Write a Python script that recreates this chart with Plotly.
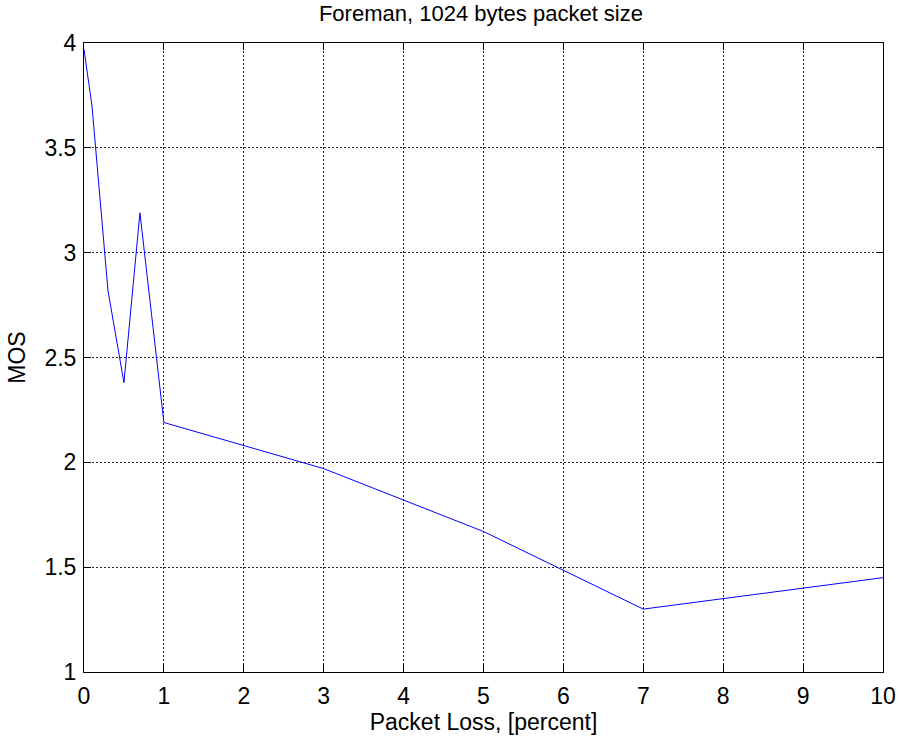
import plotly.graph_objects as go

# Packet loss (percent) versus mean opinion score
packet_loss = [0, 0.1, 0.3, 0.5, 0.7, 1, 3, 5, 7, 10]
mos = [3.97, 3.70, 2.82, 2.38, 3.19, 2.19, 1.97, 1.67, 1.30, 1.45]

x_ticks = list(range(0, 11))
y_ticks = [1, 1.5, 2, 2.5, 3, 3.5, 4]
y_tick_text = ["1", "1.5", "2", "2.5", "3", "3.5", "4"]

font_family = "Liberation Sans, Arial, Helvetica, sans-serif"

fig = go.Figure()
fig.add_trace(go.Scatter(
    x=packet_loss, y=mos, mode="lines",
    line=dict(color="#0000FF", width=1),
    showlegend=False,
))

axis_common = dict(
    showline=True, linecolor="black", linewidth=1, mirror="allticks",
    ticks="inside", ticklen=7, tickcolor="black", tickwidth=1,
    showgrid=True, gridcolor="#222222", gridwidth=1, griddash="2px,2px",
    zeroline=False, automargin=False,
    tickfont=dict(family=font_family, size=23, color="black"),
)

fig.update_xaxes(
    range=[0, 10], tickvals=x_ticks, ticklabelstandoff=3,
    title=dict(text="Packet Loss, [percent]", standoff=4,
               font=dict(family=font_family, size=23, color="black")),
    **axis_common,
)
fig.update_yaxes(
    range=[1, 4], tickvals=y_ticks, ticktext=y_tick_text, ticklabelstandoff=2,
    title=dict(text="MOS", standoff=12,
               font=dict(family=font_family, size=23, color="black")),
    **axis_common,
)

fig.update_layout(
    width=899, height=736,
    margin=dict(l=84, r=16, t=43, b=64, autoexpand=False),
    paper_bgcolor="white", plot_bgcolor="white",
    title=dict(text="Foreman, 1024 bytes packet size", x=0.535, xanchor="center",
               y=0.982, yanchor="middle",
               font=dict(family=font_family, size=22, color="black")),
)

fig.write_html("out.html")
